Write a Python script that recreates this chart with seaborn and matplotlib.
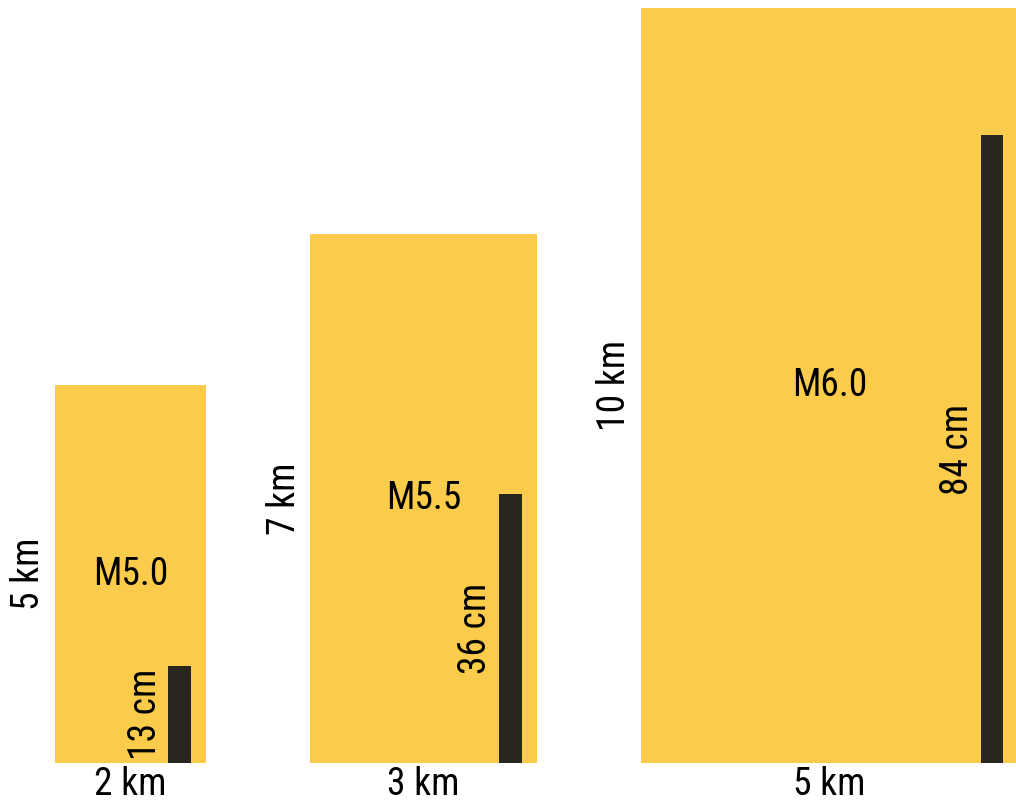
import matplotlib
matplotlib.use("Agg")
import matplotlib.pyplot as plt
import seaborn as sns

# rupture size per magnitude
mags = ["M5.0", "M5.5", "M6.0"]
length_km = [2, 3, 5]
width_km = [5, 7, 10]
slip_cm = [13, 36, 84]

yellow = "#FBCB4B"
dark = "#29261F"

sns.set_theme(style="white")
plt.rcParams["font.family"] = ["Roboto Condensed", "Liberation Sans Narrow", "Roboto", "DejaVu Sans"]

fig = plt.figure(figsize=(10.16, 8.02), dpi=100)
ax = fig.add_axes([0, 0, 1, 1])

gap = 1.38        # space between rectangles (km)
cm_to_km = 0.099  # slip bar scale
bar_w = 0.3
bar_pad = 0.2
fs = 27

lefts = []
x = 0
for L in length_km:
    lefts.append(x)
    x += L + gap

ax.bar(lefts, width_km, width=length_km, align="edge", color=yellow, linewidth=0)

bar_x = [l + L - bar_pad - bar_w for l, L in zip(lefts, length_km)]
bar_h = [s * cm_to_km for s in slip_cm]
ax.bar(bar_x, bar_h, width=bar_w, align="edge", color=dark, linewidth=0)

for l, L, W, m, bx, bh, s in zip(lefts, length_km, width_km, mags, bar_x, bar_h, slip_cm):
    ax.text(l + L / 2, W / 2, m, ha="center", va="center", fontsize=fs, color="black")
    ax.text(l - 0.1, W / 2, f"{W} km", ha="right", va="center", rotation=90,
            fontsize=fs, color="black")
    ax.text(l + L / 2, -0.42, f"{L} km", ha="center", va="baseline", fontsize=fs, color="black")
    ax.text(bx - 0.06, bh / 2, f"{s} cm", ha="right", va="center", rotation=90,
            fontsize=fs, color="black")

ax.set_xlim(-0.728, 12.73)
ax.set_ylim(-0.517, 10.106)
ax.axis("off")

fig.savefig("out.png", dpi=100, facecolor="white")
